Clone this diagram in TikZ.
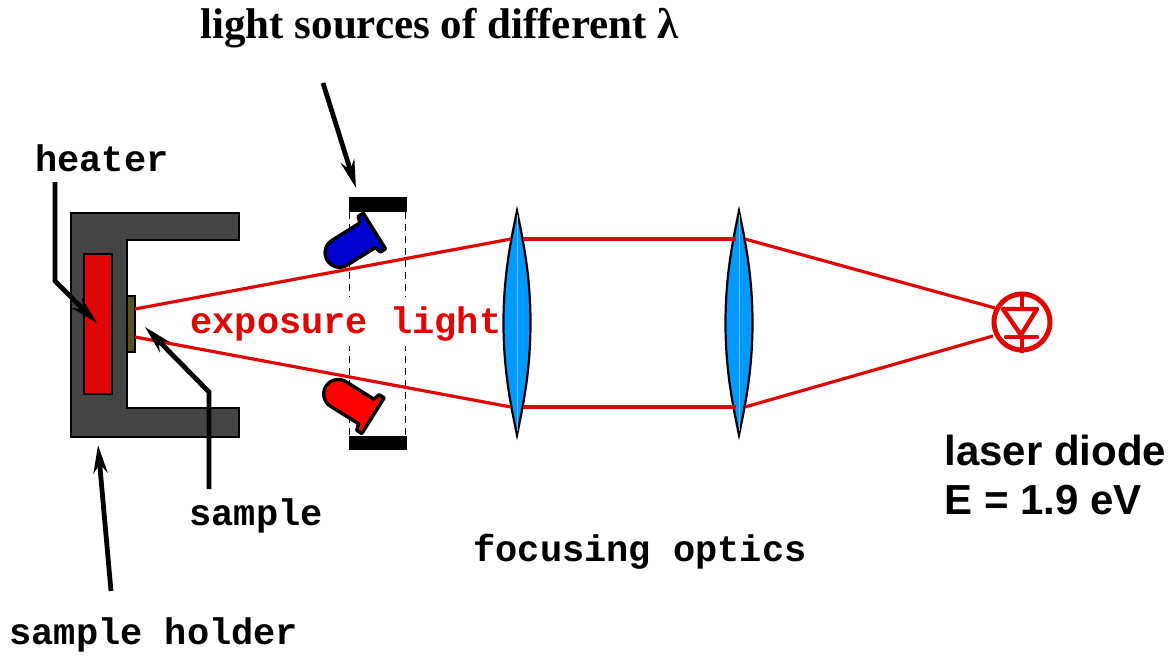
\documentclass[tikz,border=0pt]{standalone}
\usepackage{fontspec}
\setmainfont{Liberation Serif}
\newfontfamily\labelfont{Liberation Mono}
\newfontfamily\headfont{Liberation Sans}
\usetikzlibrary{arrows.meta}
\definecolor{rayred}{HTML}{E00606}
\definecolor{holdergray}{HTML}{444444}
\definecolor{samplebrown}{HTML}{5A4F20}
\definecolor{lensblue}{HTML}{0099FF}
\definecolor{ledblue}{HTML}{0000D0}
\tikzset{
  optlabel/.style={anchor=base west,inner sep=0pt,font=\labelfont\bfseries\fontsize{18.5}{20}\selectfont},
  pointer/.style={line width=2.4pt,-{Stealth[length=14pt,width=7pt]}},
  ray/.style={rayred,line width=1.6pt},
  ledbody/.style={draw=black,line width=1.7pt,line join=round},
  lensbody/.style={draw=black,line width=1.1pt,fill=lensblue},
  plate/.style={fill=black},
  guide/.style={line width=0.8pt,dash pattern=on 3.5pt off 2.5pt}
}
\newcommand{\ledoutline}{(0,21) -- (0,-21) -- (-6,-21) -- (-8,-14.5) -- (-41,-14.5)
  arc (270:90:14.5) -- (-8,14.5) -- (-6,21) -- cycle}
\newcommand{\lensoutline}[1]{(#1,444) .. controls (#1+6,415) and (#1+13.5,380) .. (#1+13.5,332)
  .. controls (#1+13.5,284) and (#1+6,249) .. (#1,220)
  .. controls (#1-6,249) and (#1-13.5,284) .. (#1-13.5,332)
  .. controls (#1-13.5,380) and (#1-6,415) .. (#1,444) -- cycle}
\begin{document}
\begin{tikzpicture}[x=0.5pt,y=0.5pt]
  \useasboundingbox (0,0) rectangle (1174,655);
  % sample holder with heater and sample
  \draw[fill=holdergray,line width=0.8pt] (71,442) -- (239,442) -- (239,415) -- (127,415)
        -- (127,247) -- (239,247) -- (239,218) -- (71,218) -- cycle;
  \draw[fill=rayred,line width=0.8pt] (84,261) rectangle (112,401);
  \draw[fill=samplebrown,line width=0.8pt] (127,303) rectangle (135,359);
  % source mount: plates and dashed edges
  \fill[plate] (349,443) rectangle (407,458);
  \fill[plate] (349,205) rectangle (407,219);
  \draw[guide] (349.5,443) -- (349.5,219);
  \draw[guide] (405.5,443) -- (405.5,219);
  % label sits over the dashes, rays come after it
  \node[optlabel,text=rayred,fill=white,text height=18pt,text depth=6.5pt] (exposure) at (190,322) {exposure light};
  % LEDs
  \begin{scope}[shift={(374.4,424)},rotate=32]
    \draw[ledbody,fill=ledblue] \ledoutline;
  \end{scope}
  \begin{scope}[shift={(373,239.3)},rotate=-32,yscale=-1]
    \draw[ledbody,fill=red] \ledoutline;
  \end{scope}
  % lenses
  \draw[lensbody] \lensoutline{517};
  \draw[lensbody] \lensoutline{739};
  \draw[lensblue!60!white,line width=0.4pt] (517,440) -- (517,224);
  \draw[lensblue!60!white,line width=0.4pt] (739,440) -- (739,224);
  % rays between sample, lenses and diode
  \coordinate (sampleup) at (135,346);
  \coordinate (samplelow) at (135,318);
  \coordinate (lensAinup) at (511,416);
  \coordinate (lensAinlow) at (511,248);
  \coordinate (lensAoutup) at (523,416);
  \coordinate (lensAoutlow) at (523,248);
  \coordinate (lensBinup) at (736,416);
  \coordinate (lensBinlow) at (736,248);
  \coordinate (lensBoutup) at (745,416);
  \coordinate (lensBoutlow) at (745,248);
  \coordinate (diodeup) at (995,347);
  \coordinate (diodelow) at (993,319);
  \draw[ray] (sampleup) -- (lensAinup);
  \draw[ray] (samplelow) -- (lensAinlow);
  \draw[ray] (lensAoutup) -- (lensBinup);
  \draw[ray] (lensAoutlow) -- (lensBinlow);
  \draw[ray] (lensBoutup) -- (diodeup);
  \draw[ray] (lensBoutlow) -- (diodelow);
  % laser diode symbol
  \node[circle,draw=rayred,line width=2.5pt,minimum size=28pt,inner sep=0pt] (diode) at (1022,333) {};
  \draw[rayred,line width=2.2pt,line join=round] (1003,346) -- (1037,346) -- (1021,320) -- cycle;
  \draw[rayred,line width=2.2pt,line cap=round] (1006,318) -- (1037,318);
  \draw[rayred,line width=2.2pt] (diode.north) -- (1022,346);
  \draw[rayred,line width=2.2pt] (1022,318) -- (diode.south);
  % texts
  \node[anchor=base west,inner sep=0pt,font=\bfseries\fontsize{21.5}{23}\selectfont] (title) at (200,616) {light sources of different λ};
  \node[optlabel] (heaterlabel) at (35,483) {heater};
  \node[optlabel] (samplelabel) at (189,130) {sample};
  \node[optlabel] (holderlabel) at (9,11) {sample holder};
  \node[optlabel] (opticslabel) at (473,94) {focusing optics};
  \node[anchor=base west,inner sep=0pt,font=\headfont\bfseries\fontsize{21}{24}\selectfont] (diodelabel) at (944,190) {laser diode};
  \node[anchor=base west,inner sep=0pt,font=\headfont\bfseries\fontsize{21}{24}\selectfont] (energylabel) at (944,141) {E = 1.9 eV};
  % pointers
  \coordinate (heaterfrom) at (55,473);
  \coordinate (heaterbend) at (55,374);
  \coordinate (heatertip) at (97,332);
  \coordinate (samplefrom) at (209,166);
  \coordinate (samplebend) at (209,263);
  \coordinate (sampletip) at (145,328);
  \coordinate (holderfrom) at (111,64);
  \coordinate (holdertip) at (98,210);
  \coordinate (sourcefrom) at (323,572);
  \coordinate (sourcetip) at (356,467);
  \draw[pointer] (heaterfrom) -- (heaterbend) -- (heatertip);
  \draw[pointer] (samplefrom) -- (samplebend) -- (sampletip);
  \draw[pointer] (holderfrom) -- (holdertip);
  \draw[pointer] (sourcefrom) -- (sourcetip);
\end{tikzpicture}
\end{document}
